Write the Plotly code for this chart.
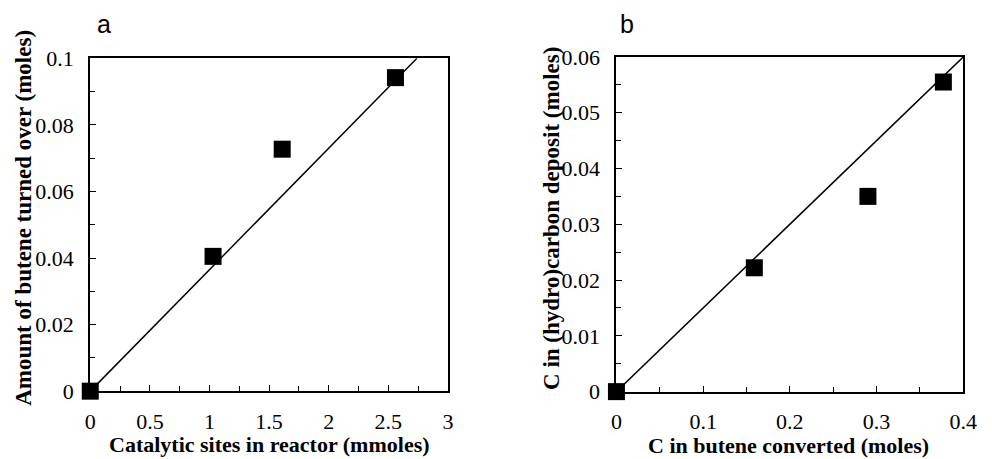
import plotly.graph_objects as go

# Panel a data
a_x = [0.0, 1.03, 1.61, 2.56]
a_y = [0.0, 0.0405, 0.0727, 0.0942]
a_fit_x = [0.0, 2.74]
a_fit_y = [0.0, 0.1]
a_xticks = [0, 0.5, 1, 1.5, 2, 2.5, 3]
a_xticktext = ["0", "0.5", "1", "1.5", "2", "2.5", "3"]
a_yticks = [0, 0.02, 0.04, 0.06, 0.08, 0.1]
a_yticktext = ["0", "0.02", "0.04", "0.06", "0.08", "0.1"]

# Panel b data
b_x = [0.0, 0.159, 0.29, 0.377]
b_y = [0.0, 0.0222, 0.035, 0.0555]
b_fit_x = [0.0, 0.4]
b_fit_y = [0.0, 0.06]
b_xticks = [0, 0.1, 0.2, 0.3, 0.4]
b_xticktext = ["0", "0.1", "0.2", "0.3", "0.4"]
b_yticks = [0, 0.01, 0.02, 0.03, 0.04, 0.05, 0.06]
b_yticktext = ["0", "0.01", "0.02", "0.03", "0.04", "0.05", "0.06"]

W, H = 992, 459
SERIF = "Times New Roman, Liberation Serif, Times, serif"
SANS = "Liberation Sans"

fig = go.Figure()

fig.add_trace(go.Scatter(x=a_fit_x, y=a_fit_y, mode="lines",
                         line=dict(color="black", width=1.5),
                         xaxis="x", yaxis="y", showlegend=False, hoverinfo="skip"))
fig.add_trace(go.Scatter(x=a_x, y=a_y, mode="markers",
                         marker=dict(symbol="square", size=17, color="black"),
                         cliponaxis=False, xaxis="x", yaxis="y", showlegend=False))
fig.add_trace(go.Scatter(x=b_fit_x, y=b_fit_y, mode="lines",
                         line=dict(color="black", width=1.5),
                         xaxis="x2", yaxis="y2", showlegend=False, hoverinfo="skip"))
fig.add_trace(go.Scatter(x=b_x, y=b_y, mode="markers",
                         marker=dict(symbol="square", size=17, color="black"),
                         cliponaxis=False, xaxis="x2", yaxis="y2", showlegend=False))

def axis(domain, rng, tickvals, ticktext, minor_dtick, anchor):
    return dict(domain=domain, range=rng, autorange=False, anchor=anchor,
                tickmode="array", tickvals=tickvals, ticktext=ticktext,
                ticks="inside", ticklen=6, tickwidth=1.2, tickcolor="black",
                minor=dict(ticks="inside", ticklen=5, tickwidth=1.2, tickcolor="black",
                           tickmode="linear", tick0=0, dtick=minor_dtick),
                showline=True, linecolor="black", linewidth=2, mirror=True,
                showgrid=False, zeroline=False, fixedrange=True)

fig.update_layout(
    width=W, height=H,
    margin=dict(l=0, r=0, t=0, b=0),
    paper_bgcolor="white", plot_bgcolor="white",
    font=dict(family=SERIF, size=22, color="black"),
    xaxis=axis([86 / W, 451 / W], [0, 3], a_xticks, a_xticktext, 0.25, "y"),
    yaxis=axis([1 - 401 / H, 1 - 49 / H], [0, 0.1], a_yticks, a_yticktext, 0.01, "x"),
    xaxis2=axis([623 / W, 977 / W], [0, 0.4], b_xticks, b_xticktext, 0.05, "y2"),
    yaxis2=axis([1 - 401.5 / H, 1 - 47.5 / H], [0, 0.06], b_yticks, b_yticktext, 0.005, "x2"),
)
fig.update_xaxes(tickfont=dict(family=SERIF, size=22, color="black"), ticklabelstandoff=9)
fig.update_yaxes(tickfont=dict(family=SERIF, size=22, color="black"), ticklabelstandoff=10)

titlefont = dict(family=SERIF, size=22, color="black", weight="bold")
ann = [
    dict(text="Catalytic sites in reactor (mmoles)", x=269 / W, y=1 - 457 / H, size=22),
    dict(text="C in butene converted (moles)", x=799 / W, y=1 - 458 / H, size=22),
    dict(text="Amount of butene turned over (moles)", x=17 / W, y=1 - 218 / H, textangle=-90, size=23),
    dict(text="C in (hydro)carbon deposit (moles)", x=556 / W, y=1 - 218 / H, textangle=-90, size=23),
]
for a in ann:
    sz = a.pop("size")
    fig.add_annotation(xref="paper", yref="paper", showarrow=False,
                       xanchor="center", yanchor="middle",
                       font=dict(titlefont, size=sz), **a)

for lbl, x in [("a", 100), ("b", 634)]:
    fig.add_annotation(text=lbl, xref="paper", yref="paper", x=x / W, y=1 - 13 / H,
                       showarrow=False, xanchor="center", yanchor="middle",
                       font=dict(family=SANS, size=25, color="black"))

fig.write_html("out.html")
